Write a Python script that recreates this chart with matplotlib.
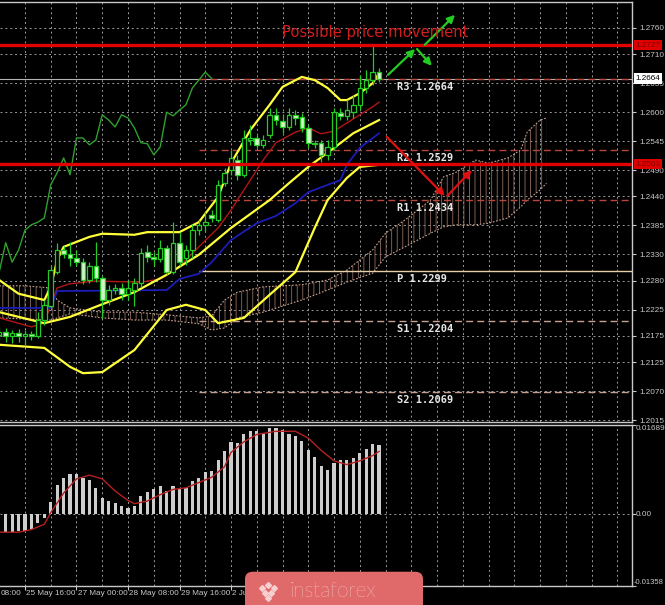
import numpy as np
import matplotlib.pyplot as plt
from matplotlib.patches import FancyBboxPatch

plt.rcParams['hatch.linewidth'] = 0.6

# H4 bars, bar 0 = 25 May 16:00
bars = np.arange(-4, 56)
opens = [1.2177, 1.2182, 1.2175, 1.2181, 1.2175, 1.2179, 1.2175, 1.2205, 1.2232, 1.2296,
         1.2338, 1.2331, 1.2323, 1.2315, 1.2281, 1.2308, 1.2285, 1.2243, 1.2262, 1.2266,
         1.2255, 1.2262, 1.2276, 1.2334, 1.2325, 1.2321, 1.2342, 1.2296, 1.2352, 1.2323,
         1.2338, 1.2376, 1.2386, 1.2405, 1.2395, 1.2466, 1.2490, 1.2509, 1.2481, 1.2547,
         1.2551, 1.2538, 1.2557, 1.2595, 1.2583, 1.2572, 1.2595, 1.2591, 1.2570, 1.2542,
         1.2542, 1.2519, 1.2534, 1.2599, 1.2593, 1.2600, 1.2614, 1.2646, 1.2661, 1.2676]
closes = [1.2182, 1.2175, 1.2181, 1.2175, 1.2179, 1.2175, 1.2205, 1.2234, 1.2300, 1.2338,
          1.2331, 1.2323, 1.2315, 1.2281, 1.2308, 1.2285, 1.2243, 1.2262, 1.2266, 1.2255,
          1.2266, 1.2276, 1.2333, 1.2325, 1.2321, 1.2342, 1.2296, 1.2352, 1.2315, 1.2338,
          1.2376, 1.2386, 1.2391, 1.2399, 1.2462, 1.2485, 1.2513, 1.2481, 1.2551, 1.2551,
          1.2538, 1.2547, 1.2595, 1.2585, 1.2572, 1.2595, 1.2589, 1.2570, 1.2542, 1.2540,
          1.2519, 1.2534, 1.2600, 1.2593, 1.2604, 1.2614, 1.2646, 1.2661, 1.2676, 1.2664]
highs = [1.2192, 1.2190, 1.2186, 1.2188, 1.2186, 1.2184, 1.2220, 1.2243, 1.2310, 1.2352,
         1.2346, 1.2353, 1.2338, 1.2323, 1.2315, 1.2353, 1.2289, 1.2272, 1.2274, 1.2276,
         1.2281, 1.2285, 1.2342, 1.2348, 1.2334, 1.2357, 1.2348, 1.2391, 1.2372, 1.2348,
         1.2388, 1.2395, 1.2410, 1.2414, 1.2471, 1.2494, 1.2528, 1.2519, 1.2566, 1.2576,
         1.2557, 1.2557, 1.2608, 1.2608, 1.2595, 1.2608, 1.2604, 1.2599, 1.2576, 1.2547,
         1.2547, 1.2547, 1.2608, 1.2608, 1.2623, 1.2633, 1.2671, 1.2680, 1.2728, 1.2684]
lows = [1.2167, 1.2163, 1.2162, 1.2163, 1.2158, 1.2167, 1.2171, 1.2196, 1.2228, 1.2293,
        1.2323, 1.2308, 1.2308, 1.2274, 1.2276, 1.2277, 1.2209, 1.2234, 1.2255, 1.2243,
        1.2243, 1.2232, 1.2268, 1.2315, 1.2308, 1.2315, 1.2291, 1.2293, 1.2308, 1.2310,
        1.2323, 1.2367, 1.2372, 1.2391, 1.2391, 1.2460, 1.2481, 1.2471, 1.2477, 1.2538,
        1.2532, 1.2532, 1.2551, 1.2576, 1.2561, 1.2566, 1.2576, 1.2562, 1.2532, 1.2532,
        1.2505, 1.2509, 1.2528, 1.2585, 1.2585, 1.2589, 1.2604, 1.2637, 1.2652, 1.2657]

# bollinger bands
bb_up_x = [-4, -1, 3, 4, 5, 6, 10, 12, 17, 19, 24, 27, 30, 32, 35, 38, 40, 43, 45, 47, 49, 50, 52, 54, 55]
bb_up = [1.2281, 1.2255, 1.2243, 1.2268, 1.2319, 1.2344, 1.2363, 1.2369, 1.2367, 1.2372,
         1.2372, 1.2391, 1.2439, 1.2503, 1.2566, 1.2614, 1.2648, 1.2667, 1.2661, 1.2646,
         1.2623, 1.2623, 1.2636, 1.2655, 1.2674]
bb_mid_x = [-4, 3, 7, 12, 17, 22, 27, 32, 38, 41, 44, 48, 51, 55]
bb_mid = [1.2220, 1.2199, 1.2211, 1.2235, 1.2258, 1.2291, 1.2329, 1.2380, 1.2433, 1.2465,
          1.2496, 1.2532, 1.2560, 1.2585]
bb_low_x = [-4, 3, 7, 9, 12, 17, 22, 25, 28, 30, 34, 38, 42, 45, 47, 50, 52, 55]
bb_low = [1.2158, 1.2152, 1.2116, 1.2104, 1.2106, 1.2148, 1.2224, 1.2234, 1.2224, 1.2199,
          1.2209, 1.2253, 1.2296, 1.2380, 1.2433, 1.2475, 1.2496, 1.2500]

# ichimoku
tenkan_x = [-4, 1, 3, 4, 5, 7, 11, 18, 21, 23, 25, 27, 30, 32, 34, 37, 39, 42, 44, 46, 48, 52, 54, 55]
tenkan = [1.2209, 1.2192, 1.2199, 1.2234, 1.2266, 1.2274, 1.2279, 1.2277, 1.2283, 1.2298,
          1.2319, 1.2344, 1.2380, 1.2414, 1.2452, 1.2509, 1.2542, 1.2562, 1.2570, 1.2559,
          1.2564, 1.2595, 1.2610, 1.2619]
kijun_x = [-4, 4, 5, 22, 24, 27, 29, 32, 36, 39, 42, 44, 49, 50, 52, 55]
kijun = [1.2228, 1.2228, 1.2260, 1.2262, 1.2283, 1.2293, 1.2315, 1.2357, 1.2389, 1.2403,
         1.2427, 1.2448, 1.2471, 1.2500, 1.2532, 1.2560]
cloud_x = [-4, 0, 4, 5, 7, 12, 17, 22, 27, 29, 31, 33, 37, 43, 47, 50, 54, 56, 59, 63,
           65, 67, 70, 72, 75, 77, 78, 80, 81]
span_a = [1.2270, 1.2270, 1.2266, 1.2243, 1.2228, 1.2220, 1.2220, 1.2215, 1.2209, 1.2213,
          1.2243, 1.2258, 1.2268, 1.2272, 1.2281, 1.2300, 1.2338, 1.2370, 1.2395, 1.2433,
          1.2477, 1.2486, 1.2509, 1.2503, 1.2513, 1.2528, 1.2562, 1.2585, 1.2589]
span_b = [1.2209, 1.2207, 1.2205, 1.2209, 1.2217, 1.2209, 1.2205, 1.2205, 1.2198, 1.2186,
          1.2190, 1.2209, 1.2220, 1.2243, 1.2262, 1.2277, 1.2294, 1.2325, 1.2344, 1.2370,
          1.2382, 1.2386, 1.2386, 1.2389, 1.2399, 1.2420, 1.2433, 1.2452, 1.2465]

# daily pivots
piv_names = ['R3', 'R2', 'R1', 'P', 'S1', 'S2']
piv_vals = [1.2664, 1.2529, 1.2434, 1.2299, 1.2204, 1.2069]
red_levels = [1.2727, 1.2501]

# MACD
macd_x = np.arange(-3, 56)
macd_hist = [-0.0034, -0.0034, -0.0032, -0.0032, -0.0027, -0.0017, -0.0007, 0.0024, 0.0055, 0.0069,
             0.0077, 0.0077, 0.0069, 0.0065, 0.0050, 0.0031, 0.0025, 0.0021, 0.0015, 0.0011,
             0.0015, 0.0035, 0.0042, 0.0048, 0.0054, 0.0044, 0.0054, 0.0048, 0.0050, 0.0062,
             0.0068, 0.0080, 0.0081, 0.0102, 0.0119, 0.0136, 0.0134, 0.0151, 0.0157, 0.0157,
             0.0154, 0.0164, 0.0164, 0.0159, 0.0151, 0.0149, 0.0139, 0.0121, 0.0109, 0.0091,
             0.0084, 0.0097, 0.0102, 0.0102, 0.0107, 0.0115, 0.0123, 0.0133, 0.0131]
sig_x = [-4, -1, 1, 3, 4, 6, 8, 10, 12, 14, 16, 17, 19, 21, 23, 25, 27, 29, 31, 32,
         34, 36, 39, 42, 44, 46, 48, 50, 52, 54, 55]
signal = [-0.0034, -0.0034, -0.0029, -0.0019, 0.0003, 0.0040, 0.0067, 0.0074, 0.0067, 0.0044,
          0.0026, 0.0020, 0.0025, 0.0037, 0.0047, 0.0050, 0.0060, 0.0070, 0.0090, 0.0117,
          0.0137, 0.0151, 0.0157, 0.0157, 0.0144, 0.0121, 0.0101, 0.0094, 0.0101, 0.0111, 0.0119]

grid_levels = [1.2760, 1.2710, 1.2655, 1.2600, 1.2545, 1.2490, 1.2440, 1.2385, 1.2330,
               1.2280, 1.2225, 1.2175, 1.2125, 1.2070, 1.2015]
# time labels that are readable (the rest sit under the watermark)
date_bars = [0, 8, 16, 24, 32]
date_labels = ['25 May 16:00', '27 May 00:00', '28 May 08:00', '29 May 16:00', '2 Jun 00:00']
first_label = '08:00'   # tail of the label cut by the left edge

W, H = 665, 605
SCALE_FONT = dict(family='Liberation Sans', fontsize=5.9, color='#c8c8c8')

fig = plt.figure(figsize=(W / 100, H / 100), dpi=100, facecolor='black')
ax = fig.add_axes([0, (H - 422) / H, 632 / W, 420 / H], facecolor='black')
ax2 = fig.add_axes([0, (H - 586) / H, 632 / W, 161 / H], facecolor='black')

xmin, xmax = -3.883, 94.29
for a in (ax, ax2):
    a.set_xlim(xmin, xmax)
    for s in a.spines.values():
        s.set_color('#c8c8c8')
        s.set_linewidth(1)
    a.spines['left'].set_visible(False)
    a.yaxis.tick_right()
    a.tick_params(axis='y', colors='#c8c8c8', length=3, pad=2)
    a.tick_params(axis='x', length=0, labelbottom=False)
    for b in range(0, 95, 4):
        a.axvline(b, color='#9a9a9a', lw=0.7, ls=(0, (2, 3)), zorder=0)

ax.set_ylim(1.20112, 1.28094)
ax.set_yticks(grid_levels)
ax.set_yticklabels(['%.4f' % v for v in grid_levels], **SCALE_FONT)
for v in grid_levels:
    ax.axhline(v, color='#9a9a9a', lw=0.7, ls=(0, (2, 3)), zorder=0)

# cloud
ax.fill_between(cloud_x, span_a, span_b, facecolor='none', edgecolor='#8e6c60',
                hatch='|||', linewidth=0, zorder=1)
ax.plot(cloud_x, span_a, color='#c8a08c', lw=0.8, ls=(0, (1.5, 1.5)), zorder=1)
ax.plot(cloud_x, span_b, color='#c8a08c', lw=0.8, ls=(0, (1.5, 1.5)), zorder=1)

# pivot levels
for name, v in zip(piv_names, piv_vals):
    if name == 'P':
        ax.hlines(v, 27, xmax, color='#e6cfa4', lw=1.0, zorder=2)
    elif name.startswith('R'):
        ax.hlines(v, 27, xmax, color='#b8463c', lw=1.0, ls=(0, (5, 3)), zorder=2)
    else:
        ax.hlines(v, 27, xmax, color='#c8a090', lw=1.0, ls=(0, (5, 3)), zorder=2)
    ax.annotate('%s %.4f' % (name, v), (57.8, v), xytext=(0, -8), textcoords='offset pixels',
                color='#e6e6e6', fontsize=7.5, family='DejaVu Sans Mono', fontweight='bold',
                va='center', ha='left', zorder=6)

# bid line
ax.axhline(closes[-1], color='#b4b4b4', lw=0.8, zorder=1.5)

# indicator lines
ax.plot(bars - 26, closes, color='#2fa02f', lw=1.0, zorder=3)
ax.plot(tenkan_x, tenkan, color='#b41414', lw=1.0, zorder=3)
ax.plot(kijun_x, kijun, color='#1c1cb8', lw=1.3, zorder=3)
for xs, ys in ((bb_up_x, bb_up), (bb_mid_x, bb_mid), (bb_low_x, bb_low)):
    ax.plot(xs, ys, color='#ffff3a', lw=1.6, zorder=4)

# candles
o = np.array(opens)
c = np.array(closes)
ax.vlines(bars, lows, highs, color='#22cc22', lw=0.9, zorder=5)
bull = c >= o
body_h = np.maximum(np.abs(c - o), 0.00008)
ax.bar(bars[bull], body_h[bull], bottom=np.minimum(o, c)[bull], width=0.7,
       facecolor='black', edgecolor='#22cc22', lw=0.9, zorder=5.5)
ax.bar(bars[~bull], body_h[~bull], bottom=np.minimum(o, c)[~bull], width=0.7,
       facecolor='#d2f5c8', edgecolor='#22cc22', lw=0.9, zorder=5.5)

# key levels
for v in red_levels:
    ax.axhline(v, color='#e00000', lw=2.4, zorder=7)

# price boxes on the scale
yt = ax.get_yaxis_transform()
for v in red_levels:
    ax.text(1.006, v, '%.4f' % v, transform=yt, family='Liberation Sans', fontsize=5.9,
            color='#7a0000', va='center', ha='left',
            bbox=dict(facecolor='#e00000', edgecolor='none', pad=1.2), zorder=10, clip_on=False)
ax.text(1.006, closes[-1], '%.4f' % closes[-1], transform=yt, family='Liberation Sans',
        fontsize=5.9, color='black', va='center', ha='left',
        bbox=dict(facecolor='white', edgecolor='none', pad=1.2), zorder=10, clip_on=False)

# forecast arrows
arrow_g = dict(arrowstyle='-|>', color='#22cc22', lw=1.6, mutation_scale=11, shrinkA=0, shrinkB=0)
arrow_r = dict(arrowstyle='-|>', color='#e01010', lw=1.6, mutation_scale=11, shrinkA=0, shrinkB=0)
ax.annotate('', xy=(60.6, 1.2720), xytext=(56.4, 1.2671), arrowprops=arrow_g, zorder=8)
ax.annotate('', xy=(63.2, 1.2688), xytext=(60.9, 1.2720), arrowprops=arrow_g, zorder=8)
ax.annotate('', xy=(66.8, 1.2785), xytext=(62.1, 1.2728), arrowprops=arrow_g, zorder=8)
ax.annotate('', xy=(65.2, 1.2441), xytext=(56.2, 1.2553), arrowprops=arrow_r, zorder=8)
ax.annotate('', xy=(69.4, 1.2490), xytext=(65.6, 1.2441), arrowprops=arrow_r, zorder=8)

ax.text(54.4, 1.2752, 'Possible price movement', color='#d41c1c', fontsize=10.6,
        ha='center', va='center', zorder=9)

# MACD panel
ax2.set_ylim(-0.01358, 0.01689)
ax2.set_yticks([0.01689, 0.0, -0.01358])
ax2.set_yticklabels(['', '', ''])
ax2.axhline(0, color='#9a9a9a', lw=0.7, ls=(0, (2, 3)), zorder=0)
ax2.bar(macd_x, macd_hist, width=0.5, color='#cdcdcd', zorder=2)
ax2.plot(sig_x, signal, color='#b42020', lw=1.0, zorder=3)
y2t = ax2.get_yaxis_transform()
ax2.text(1.006, 0.01689, '0.01689', transform=y2t, va='top', ha='left', **SCALE_FONT)
ax2.text(1.006, 0.0, '0.00', transform=y2t, va='center', ha='left', **SCALE_FONT)
ax2.text(1.003, -0.01358, '-0.01358', transform=y2t, va='bottom', ha='left',
         family='Liberation Sans', fontsize=5.5, color='#c8c8c8')

# time axis
ax2.set_xticks(date_bars + [40, 48])
ax2.tick_params(axis='x', length=3, color='#c8c8c8', direction='out')
xt = ax2.get_xaxis_transform()
ax2.text(0.0015, -0.025, first_label, transform=ax2.transAxes, va='top', ha='left', **SCALE_FONT)
for b, lab in zip(date_bars, date_labels):
    ax2.text(b + 0.2, -0.025, lab, transform=xt, va='top', ha='left', **SCALE_FONT)

# watermark
fig.patches.append(FancyBboxPatch((245 / W, -0.02), 178 / W, 0.075,
                                  boxstyle='round,pad=0,rounding_size=0.012',
                                  transform=fig.transFigure, facecolor='#e06a6a',
                                  edgecolor='none', zorder=20))
fig.text(333 / W, 14 / H, 'instaforex', color='white', fontsize=15, family='Lato',
         fontweight='light', ha='center', va='center', zorder=21)
logo_x = np.array([262, 268, 274, 265, 271, 268]) / W
logo_y = np.array([17, 20, 17, 12, 12, 7]) / H
fig.add_artist(plt.Line2D(logo_x, logo_y, transform=fig.transFigure, ls='none',
                          marker='D', ms=3, color='#f6d0d0', zorder=21))

fig.savefig('out.png', dpi=100, facecolor='black')
